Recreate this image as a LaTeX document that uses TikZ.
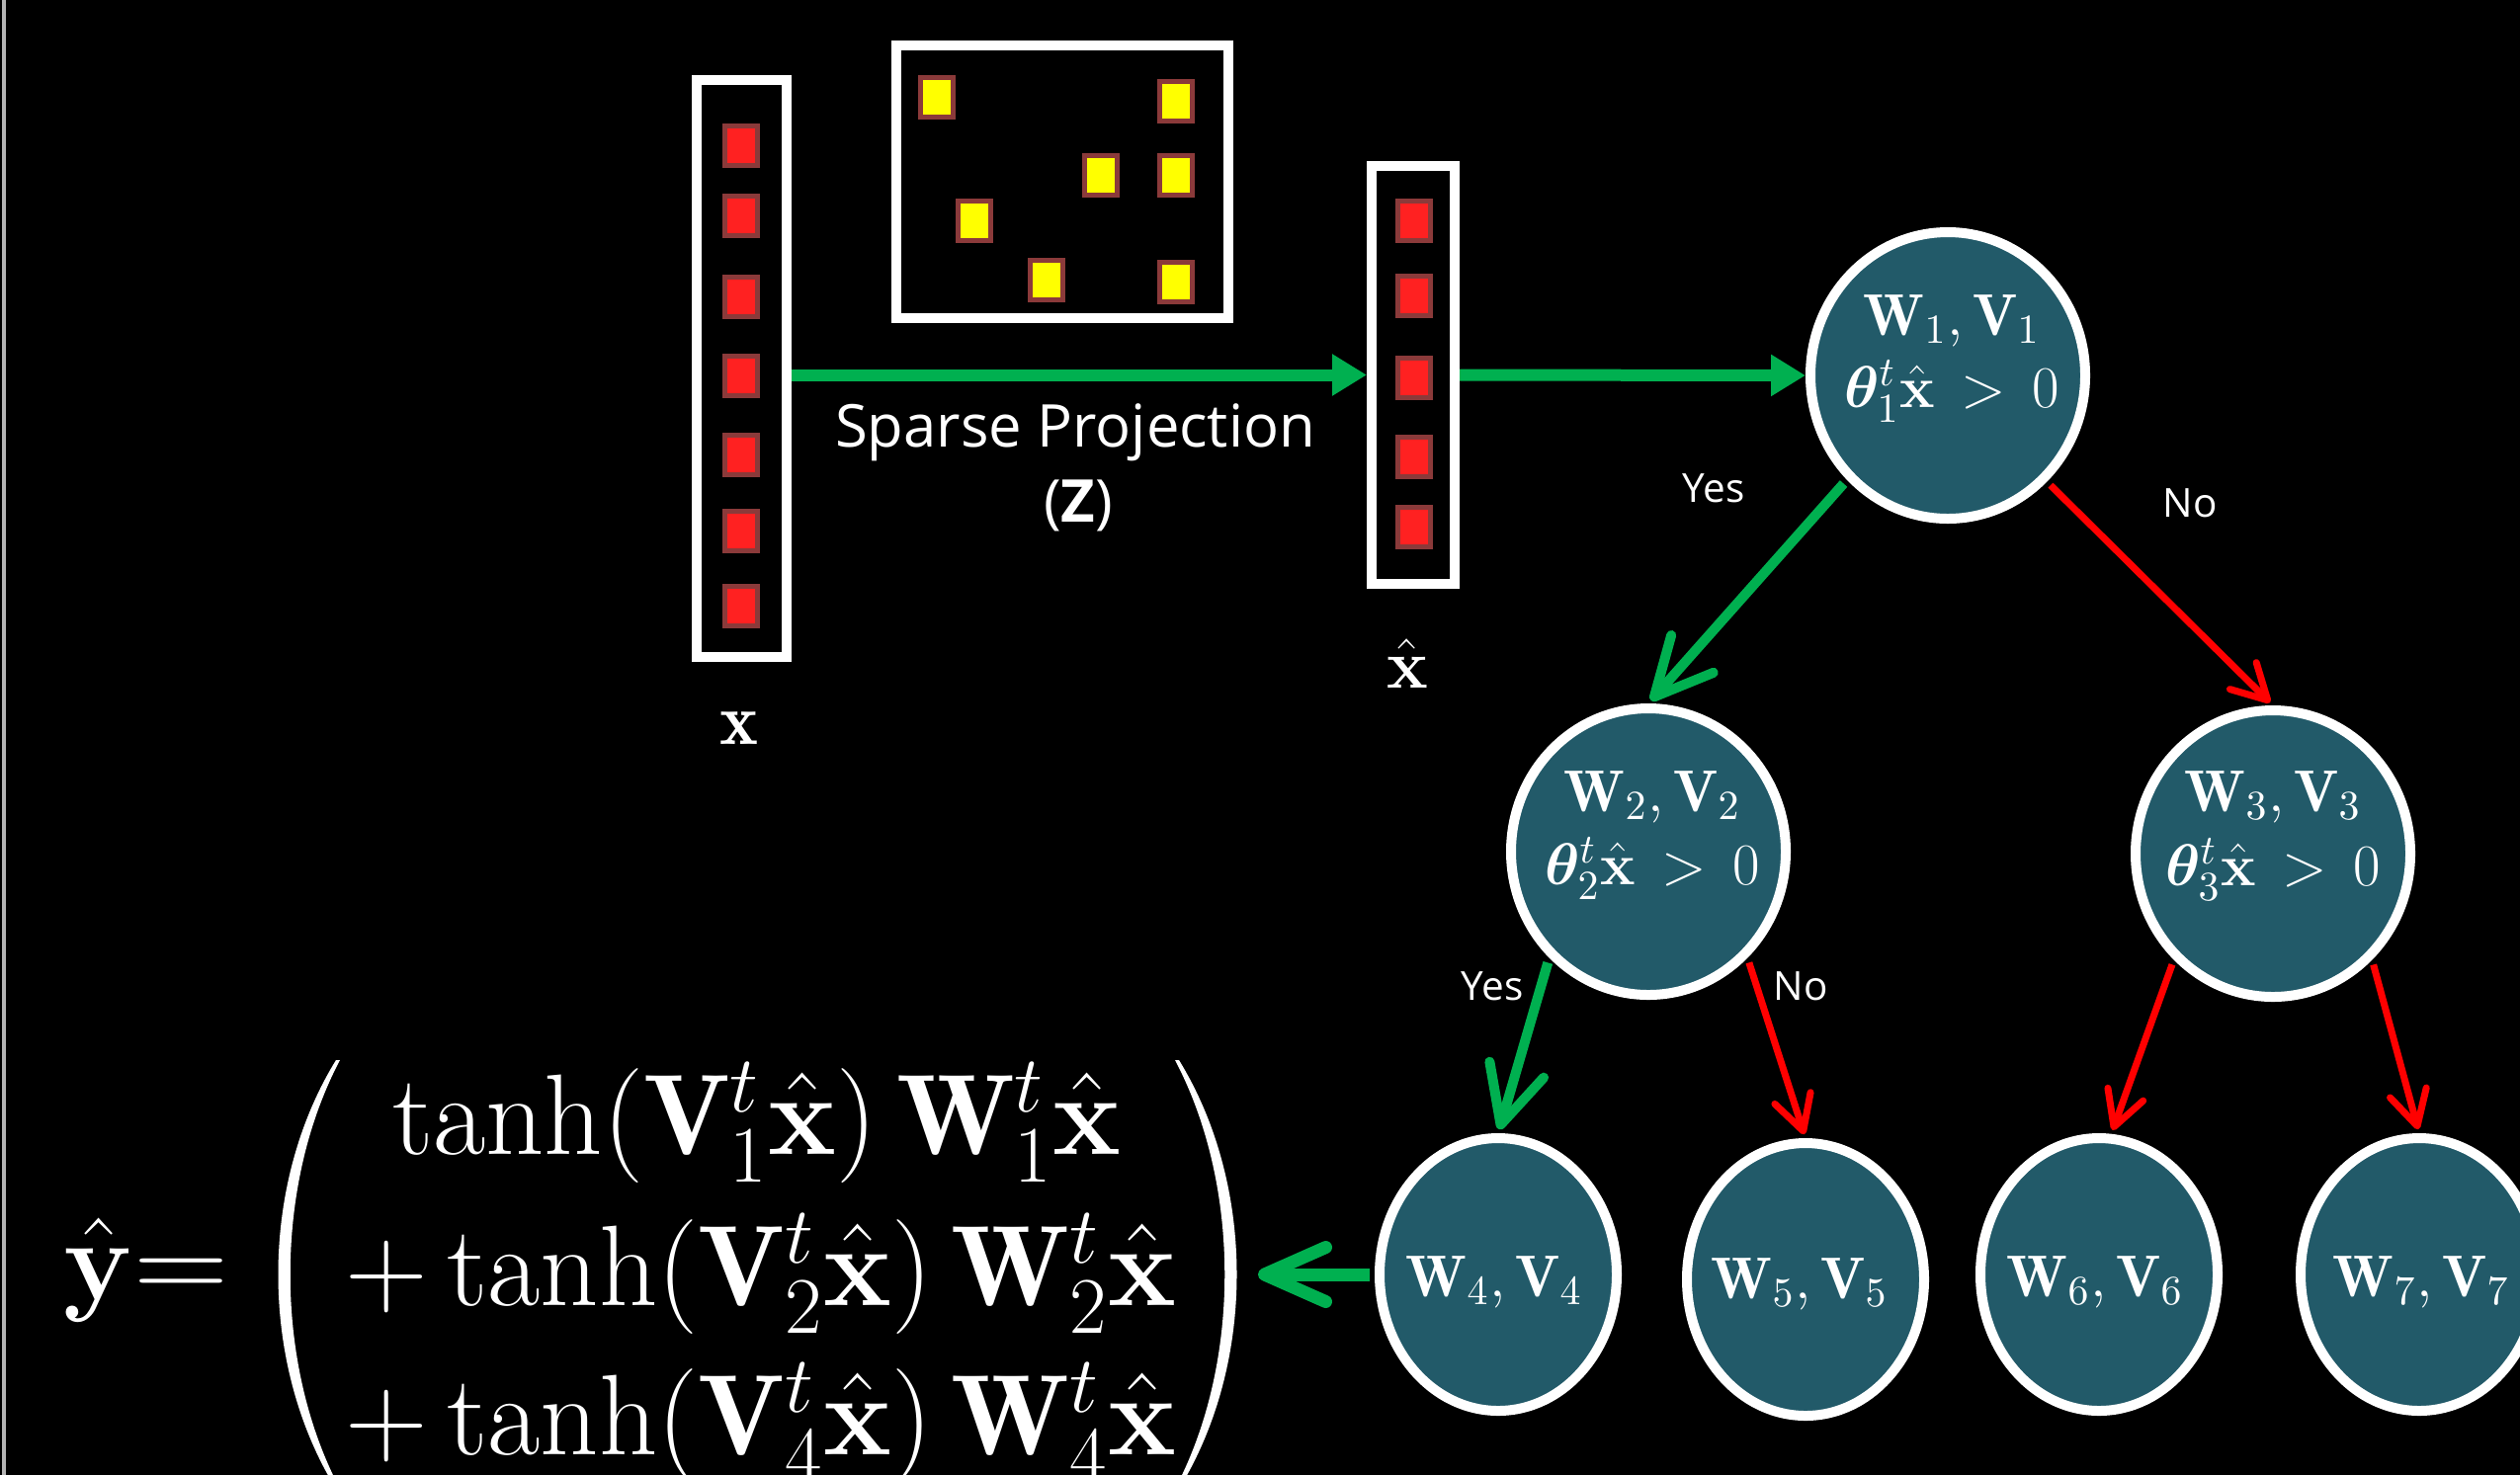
\documentclass[tikz,border=0pt]{standalone}
\usepackage{fix-cm}
\usepackage{amsmath}
\usepackage{bm}
\usepackage{fontspec}
\newfontfamily\osans{Open Sans}
\usetikzlibrary{arrows.meta,shapes.geometric}
\definecolor{nodeteal}{RGB}{34,90,105}
\definecolor{sqborder}{RGB}{139,58,58}
\definecolor{sqred}{RGB}{255,33,33}
\definecolor{sqyellow}{RGB}{255,255,0}
\definecolor{arrgreen}{RGB}{0,176,80}
\definecolor{arrred}{RGB}{255,0,0}
\definecolor{edgegray}{RGB}{180,180,180}
\newcommand{\xhb}{\bm{\hat{\mathbf{x}}}}
\begin{document}
\begin{tikzpicture}[x=0.1mm,y=-0.1mm,
  sq/.style={rectangle,draw=sqborder,line width=0.5mm,minimum width=3.3mm,minimum height=4mm,inner sep=0pt},
  redsq/.style={sq,fill=sqred},
  yelsq/.style={sq,fill=sqyellow},
  vbox/.style={rectangle,draw=white,line width=1mm,inner sep=0pt},
  inode/.style={ellipse,draw=white,fill=nodeteal,line width=1mm,minimum width=27.8mm,minimum height=29mm,inner sep=0pt},
  leaf/.style={ellipse,draw=white,fill=nodeteal,line width=1mm,minimum width=24mm,minimum height=27.6mm,inner sep=0pt},
  ntext/.style={text=white,inner sep=0pt,anchor=base,font=\fontsize{17pt}{20pt}\selectfont},
  lab/.style={text=white,inner sep=0pt,font=\osans\fontsize{11.5pt}{14pt}\selectfont},
  bigl/.style={text=white,inner sep=0pt,anchor=base,font=\osans\fontsize{17pt}{20pt}\selectfont},
  flow/.style={draw=arrgreen,line width=1.2mm,-{Triangle[length=3.5mm,width=4mm]}},
  yesarr/.style={draw=arrgreen,line width=1mm,shorten <=0.5mm,shorten >=0.4mm,-{Straight Barb[round,length=5.8mm,width=5.7mm]}},
  noarr/.style={draw=arrred,line width=0.7mm,shorten <=0.5mm,shorten >=0.4mm,-{Straight Barb[round,length=3.5mm,width=3.8mm]}},
  outarr/.style={draw=arrgreen,line width=1.3mm,shorten <=0.5mm,-{Straight Barb[round,length=6.2mm,width=5.5mm]}},
  eqtext/.style={text=white,inner sep=0pt,anchor=base,font=\fontsize{33pt}{40pt}\selectfont},
]
\useasboundingbox (0,0) rectangle (2550,1493);
\fill[black] (0,0) rectangle (2550,1493);
\clip (0,0) rectangle (2550,1493);
\draw[edgegray,line width=0.4mm] (4,0) -- (4,1493);

% input vector x
\node[vbox,minimum width=9.1mm,minimum height=58.4mm] (xbox) at (750.5,373) {};
\node[redsq] (r1) at (750,147) {};
\node[redsq] (r2) at (750,218) {};
\node[redsq] (r3) at (750,300) {};
\node[redsq] (r4) at (750,380) {};
\node[redsq] (r5) at (750,460) {};
\node[redsq] (r6) at (750,537) {};
\node[redsq] (r7) at (750,613) {};
\node[text=white,inner sep=0pt,font=\fontsize{21pt}{24pt}\selectfont] (xlab) at (748,737) {$\mathbf{x}$};

% sparse matrix Z
\node[vbox,minimum width=33.6mm,minimum height=27.6mm] (zbox) at (1075,184) {};
\node[yelsq] (y1) at (948,98) {};
\node[yelsq] (y2) at (1190,102) {};
\node[yelsq] (y3) at (1114,177) {};
\node[yelsq] (y4) at (1190,177) {};
\node[yelsq] (y5) at (986,223) {};
\node[yelsq] (y6) at (1059,283) {};
\node[yelsq] (y7) at (1190,285) {};

% projected vector x hat
\node[vbox,minimum width=8.4mm,minimum height=42.3mm] (xhbox) at (1430,379.5) {};
\node[redsq] (h1) at (1431,223) {};
\node[redsq] (h2) at (1431,299) {};
\node[redsq] (h3) at (1431,382) {};
\node[redsq] (h4) at (1431,462) {};
\node[redsq] (h5) at (1431,533) {};
\node[text=white,inner sep=0pt,font=\fontsize{20pt}{23pt}\selectfont] (xhlab) at (1424,672) {$\xhb$};

\node[bigl] (sp1) at (1088,452) {Sparse Projection};
\node[bigl] (sp2) at (1091,528) {(\textbf{Z})};

\draw[flow] (xbox.east |- xhbox.west) -- (xhbox.west);

% tree nodes
\node[inode] (n1) at (1971,380) {};
\node[inode] (n2) at (1668,862) {};
\node[inode] (n3) at (2300,864) {};
\node[leaf] (n4) at (1516,1290) {};
\node[leaf] (n5) at (1827,1295) {};
\node[leaf] (n6) at (2124,1290) {};
\node[leaf] (n7) at (2448,1290) {};

\node[ntext] (t1a) at (1975,339) {$\mathbf{W}_1,\mathbf{V}_1$};
\node[ntext] (t1b) at (1975,412) {$\bm{\theta}_1^t\xhb\,>\,0$};
\node[ntext] (t2a) at (1672,821) {$\mathbf{W}_2,\mathbf{V}_2$};
\node[ntext] (t2b) at (1672,895) {$\bm{\theta}_2^t\xhb\,>\,0$};
\node[ntext] (t3a) at (2300,821) {$\mathbf{W}_3,\mathbf{V}_3$};
\node[ntext] (t3b) at (2300,896) {$\bm{\theta}_3^t\xhb\,>\,0$};
\node[ntext] (t4) at (1512,1312) {$\mathbf{W}_4,\mathbf{V}_4$};
\node[ntext] (t5) at (1821,1314) {$\mathbf{W}_5,\mathbf{V}_5$};
\node[ntext] (t6) at (2120,1312) {$\mathbf{W}_6,\mathbf{V}_6$};
\node[ntext] (t7) at (2450,1312) {$\mathbf{W}_7,\mathbf{V}_7$};

\draw[flow] (xhbox.east) -- (n1.west);
\draw[yesarr] (n1.226) -- (n2.north);
\draw[noarr] (n1.313) -- (n3.north);
\draw[yesarr] (n2.227) -- (n4.north);
\draw[noarr] (n2.313) -- (n5.north);
\draw[noarr] (n3.227) -- (n6.85);
\draw[noarr] (n3.313) -- (n7.north);

\node[lab] (yes1) at (1734,494) {Yes};
\node[lab] (no1) at (2216,509) {No};
\node[lab] (yes2) at (1510,998) {Yes};
\node[lab] (no2) at (1822,998) {No};

% output equation
\coordinate (eqtip) at (1273,1290);
\draw[outarr] (n4.west) -- (eqtip);
\node[eqtext] (yh) at (100,1315) {$\bm{\hat{\mathbf{y}}}$};
\node[eqtext] (eqsign) at (184,1315) {\scalebox{1.15}[1]{$=$}};
\node[eqtext] (row1) at (766,1168) {$\tanh(\mathbf{V}_1^t\xhb)\,\mathbf{W}_1^t\xhb$};
\node[eqtext] (row2) at (770,1321) {$+\tanh(\mathbf{V}_2^t\xhb)\,\mathbf{W}_2^t\xhb$};
\node[eqtext] (row3) at (770,1472) {$+\tanh(\mathbf{V}_4^t\xhb)\,\mathbf{W}_4^t\xhb$};
\fill[white] (340,1073) .. controls (262,1200) and (262,1380) .. (340,1507) -- (344,1507) .. controls (277,1380) and (277,1200) .. (344,1073) -- cycle;
\fill[white] (1193,1073) .. controls (1271,1200) and (1271,1380) .. (1193,1507) -- (1189,1507) .. controls (1256,1380) and (1256,1200) .. (1189,1073) -- cycle;
\end{tikzpicture}
\end{document}
